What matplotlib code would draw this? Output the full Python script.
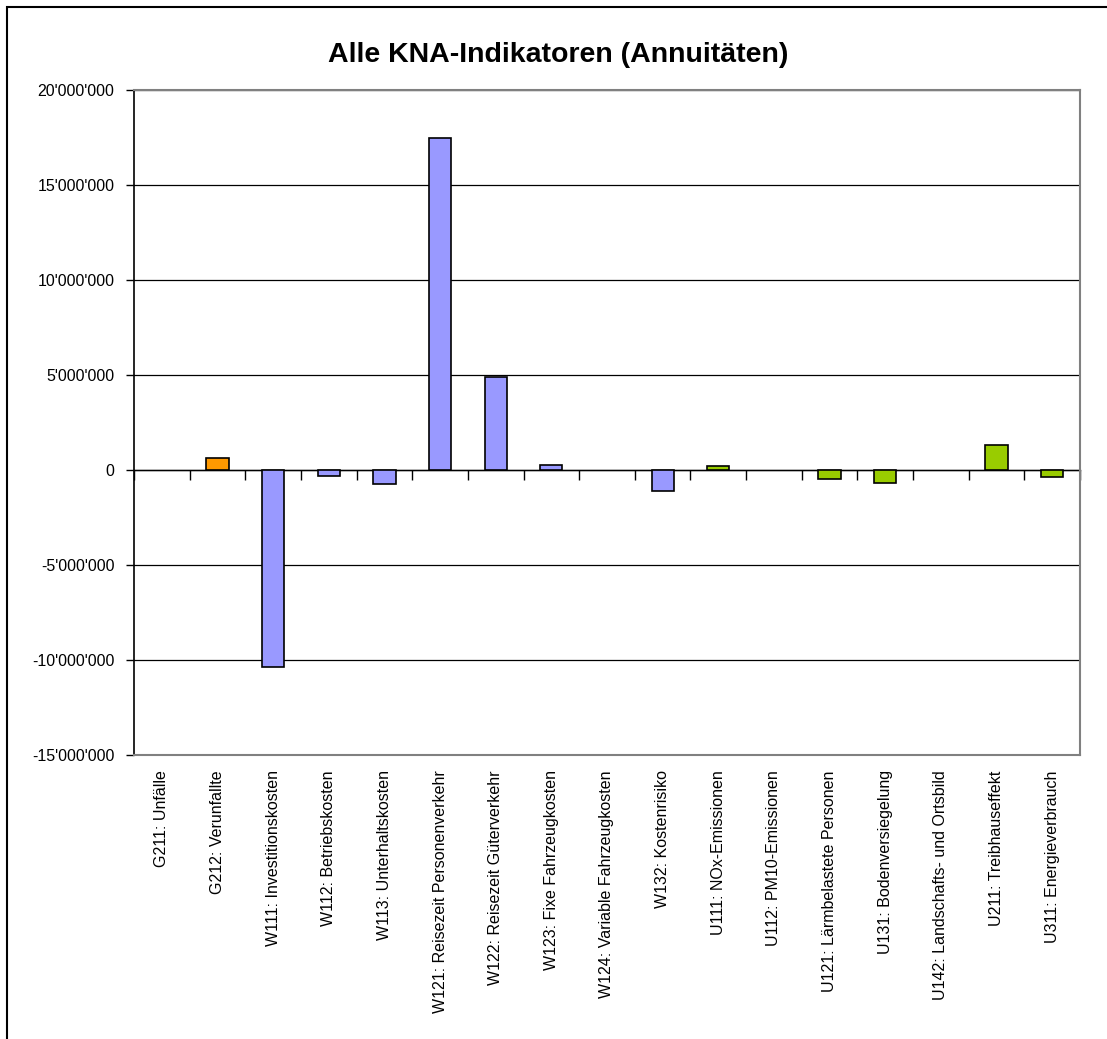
import matplotlib
matplotlib.use("Agg")
import matplotlib.pyplot as plt
from matplotlib.patches import Rectangle
from matplotlib.ticker import FuncFormatter, MultipleLocator
import numpy as np

categories = [
    "G211: Unfälle", "G212: Verunfallte", "W111: Investitionskosten",
    "W112: Betriebskosten", "W113: Unterhaltskosten",
    "W121: Reisezeit Personenverkehr", "W122: Reisezeit Güterverkehr",
    "W123: Fixe Fahrzeugkosten", "W124: Variable Fahrzeugkosten",
    "W132: Kostenrisiko", "U111: NOx-Emissionen", "U112: PM10-Emissionen",
    "U121: Lärmbelastete Personen", "U131: Bodenversiegelung",
    "U142: Landschafts- und Ortsbild", "U211: Treibhauseffekt",
    "U311: Energieverbrauch",
]
values = [
    0, 650000, -10350000, -300000, -740000, 17500000, 4880000, 280000, 0,
    -1120000, 210000, 0, -490000, -660000, 0, 1320000, -380000,
]

group_colors = {"G": "#FF9900", "W": "#9999FF", "U": "#99CC00"}
colors = [group_colors[c[0]] for c in categories]
# empty indicators get no visible bar outline
edges = ["black" if v != 0 else "none" for v in values]

plt.rcParams['font.family'] = ['Liberation Sans', 'DejaVu Sans']

fig = plt.figure(figsize=(11.07, 10.39), dpi=100)
ax = fig.add_axes([134 / 1107, 1 - 755 / 1039, (1080 - 134) / 1107, 665 / 1039])

x = np.arange(len(categories))
ax.bar(x, values, width=0.4, color=colors, edgecolor=edges, linewidth=1.2, zorder=3)

ymin, ymax = -15e6, 20e6
ax.set_ylim(ymin, ymax)
ax.set_xlim(-0.5, len(categories) - 0.5)

ax.yaxis.set_major_locator(MultipleLocator(5e6))
ax.yaxis.set_major_formatter(FuncFormatter(lambda v, p: f"{int(v):,}".replace(",", "'")))
ax.grid(axis="y", color="black", linewidth=0.9, zorder=0)

ax.set_xticks(x)
ax.set_xticklabels(categories, rotation=90, va="top", ha="center")
ax.tick_params(axis="x", length=0, pad=11, labelsize=11.5)
ax.tick_params(axis="y", length=6, width=1, direction="out", labelsize=11.5, pad=8)

for s in ["top", "right", "bottom"]:
    ax.spines[s].set_color("#808080")
    ax.spines[s].set_linewidth(1.5)
ax.spines["left"].set_color("black")
ax.spines["left"].set_linewidth(1.2)

# zero axis with category boundary ticks
zero_pos = (0 - ymin) / (ymax - ymin)
sec = ax.secondary_xaxis(zero_pos)
sec.set_xticks(np.arange(len(categories) + 1) - 0.5)
sec.tick_params(axis="x", length=7, width=1, direction="out", labelbottom=False, labeltop=False)
sec.spines["bottom"].set_linewidth(1)
sec.spines["top"].set_linewidth(1)

fig.text(0.504, 1 - 55 / 1039, "Alle KNA-Indikatoren (Annuitäten)",
         ha="center", va="center", fontsize=20.5, fontweight="bold")

fig.add_artist(Rectangle((7 / 1107, -0.01), 1.01, 1 - 7 / 1039 + 0.01,
                         transform=fig.transFigure, fill=False,
                         edgecolor="black", linewidth=1.5))

fig.savefig("out.png", dpi=100)
